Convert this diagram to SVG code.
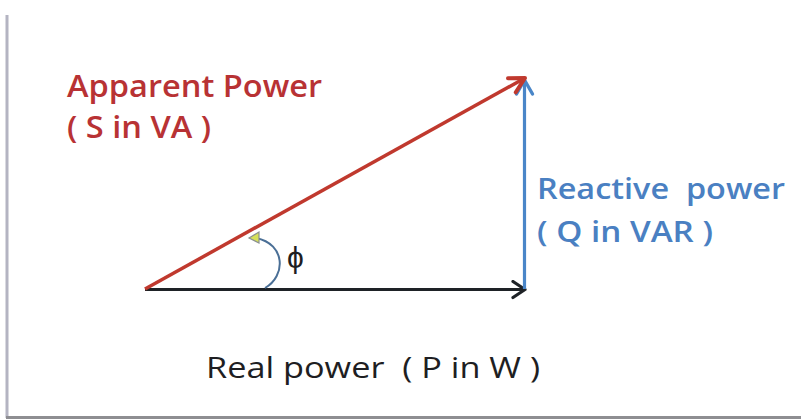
<svg xmlns="http://www.w3.org/2000/svg" width="801" height="420" viewBox="0 0 801 420">
<style>
.t{font-family:"Open Sans","Liberation Sans",sans-serif;white-space:pre;}
.red{fill:#b83234;font-weight:600;}
.blue{fill:#4a80c2;font-weight:600;}
.blk{fill:#1e1e22;font-weight:400;}
</style>
<defs>
<marker id="mBlack" viewBox="0 0 20 20" refX="17" refY="10" markerWidth="20" markerHeight="20" markerUnits="userSpaceOnUse" orient="auto">
<path d="M5,2 L17,10 L5,18" fill="none" stroke="#1e2226" stroke-width="3.2" stroke-linecap="round" stroke-linejoin="round"/>
</marker>
<marker id="mRed" viewBox="0 0 22 22" refX="19" refY="11" markerWidth="22" markerHeight="22" markerUnits="userSpaceOnUse" orient="auto">
<path d="M4,3 L19,11 L4,19" fill="none" stroke="#c0392e" stroke-width="4" stroke-linecap="round" stroke-linejoin="round"/>
</marker>
<marker id="mBlue" viewBox="0 0 22 22" refX="19" refY="11" markerWidth="22" markerHeight="22" markerUnits="userSpaceOnUse" orient="auto">
<path d="M5,3 L19,11 L5,19" fill="none" stroke="#4a86c8" stroke-width="3.4" stroke-linecap="round" stroke-linejoin="round"/>
</marker>
</defs>
<rect width="801" height="420" fill="#ffffff"/>
<line x1="7" y1="15" x2="7" y2="418" stroke="#b4b4c2" stroke-width="3"/>
<line x1="6" y1="417.5" x2="801" y2="417.5" stroke="#8e8e92" stroke-width="3"/>
<g id="connectors">
<line id="real" x1="145" y1="289.5" x2="525" y2="289.5" stroke="#1e2226" stroke-width="3.2" marker-end="url(#mBlack)"/>
<line id="reactive" x1="524.5" y1="289" x2="524.5" y2="80" stroke="#4a86c8" stroke-width="3.2" marker-end="url(#mBlue)"/>
<line id="apparent" x1="145" y1="289" x2="525" y2="78" stroke="#c0392e" stroke-width="3.5" marker-end="url(#mRed)"/>
<g id="angle">
<path d="M265,288 C286,276 286,244 256,238" fill="none" stroke="#4a6f96" stroke-width="2"/>
<path d="M249,238 L259,232 L259,243 Z" fill="#d6e05a" stroke="#8a9090" stroke-width="1.2"/>
</g>
</g>
<g id="label-apparent">
<text class="t red" x="67" y="97" font-size="31" textLength="255" lengthAdjust="spacingAndGlyphs">Apparent Power</text>
<text class="t red" x="67" y="138" font-size="31" textLength="144" lengthAdjust="spacingAndGlyphs">( S in VA )</text>
</g>
<g id="label-reactive">
<text class="t blue" x="537" y="199" font-size="29" textLength="248" lengthAdjust="spacingAndGlyphs">Reactive  power</text>
<text class="t blue" x="537" y="242" font-size="29" textLength="176" lengthAdjust="spacingAndGlyphs">( Q in VAR )</text>
</g>
<g id="label-phi">
<text class="t blk" x="287" y="268" font-size="30">ϕ</text>
</g>
<g id="label-real">
<text class="t blk" x="206" y="378" font-size="30" textLength="334" lengthAdjust="spacingAndGlyphs">Real power  ( P in W )</text>
</g>
</svg>
